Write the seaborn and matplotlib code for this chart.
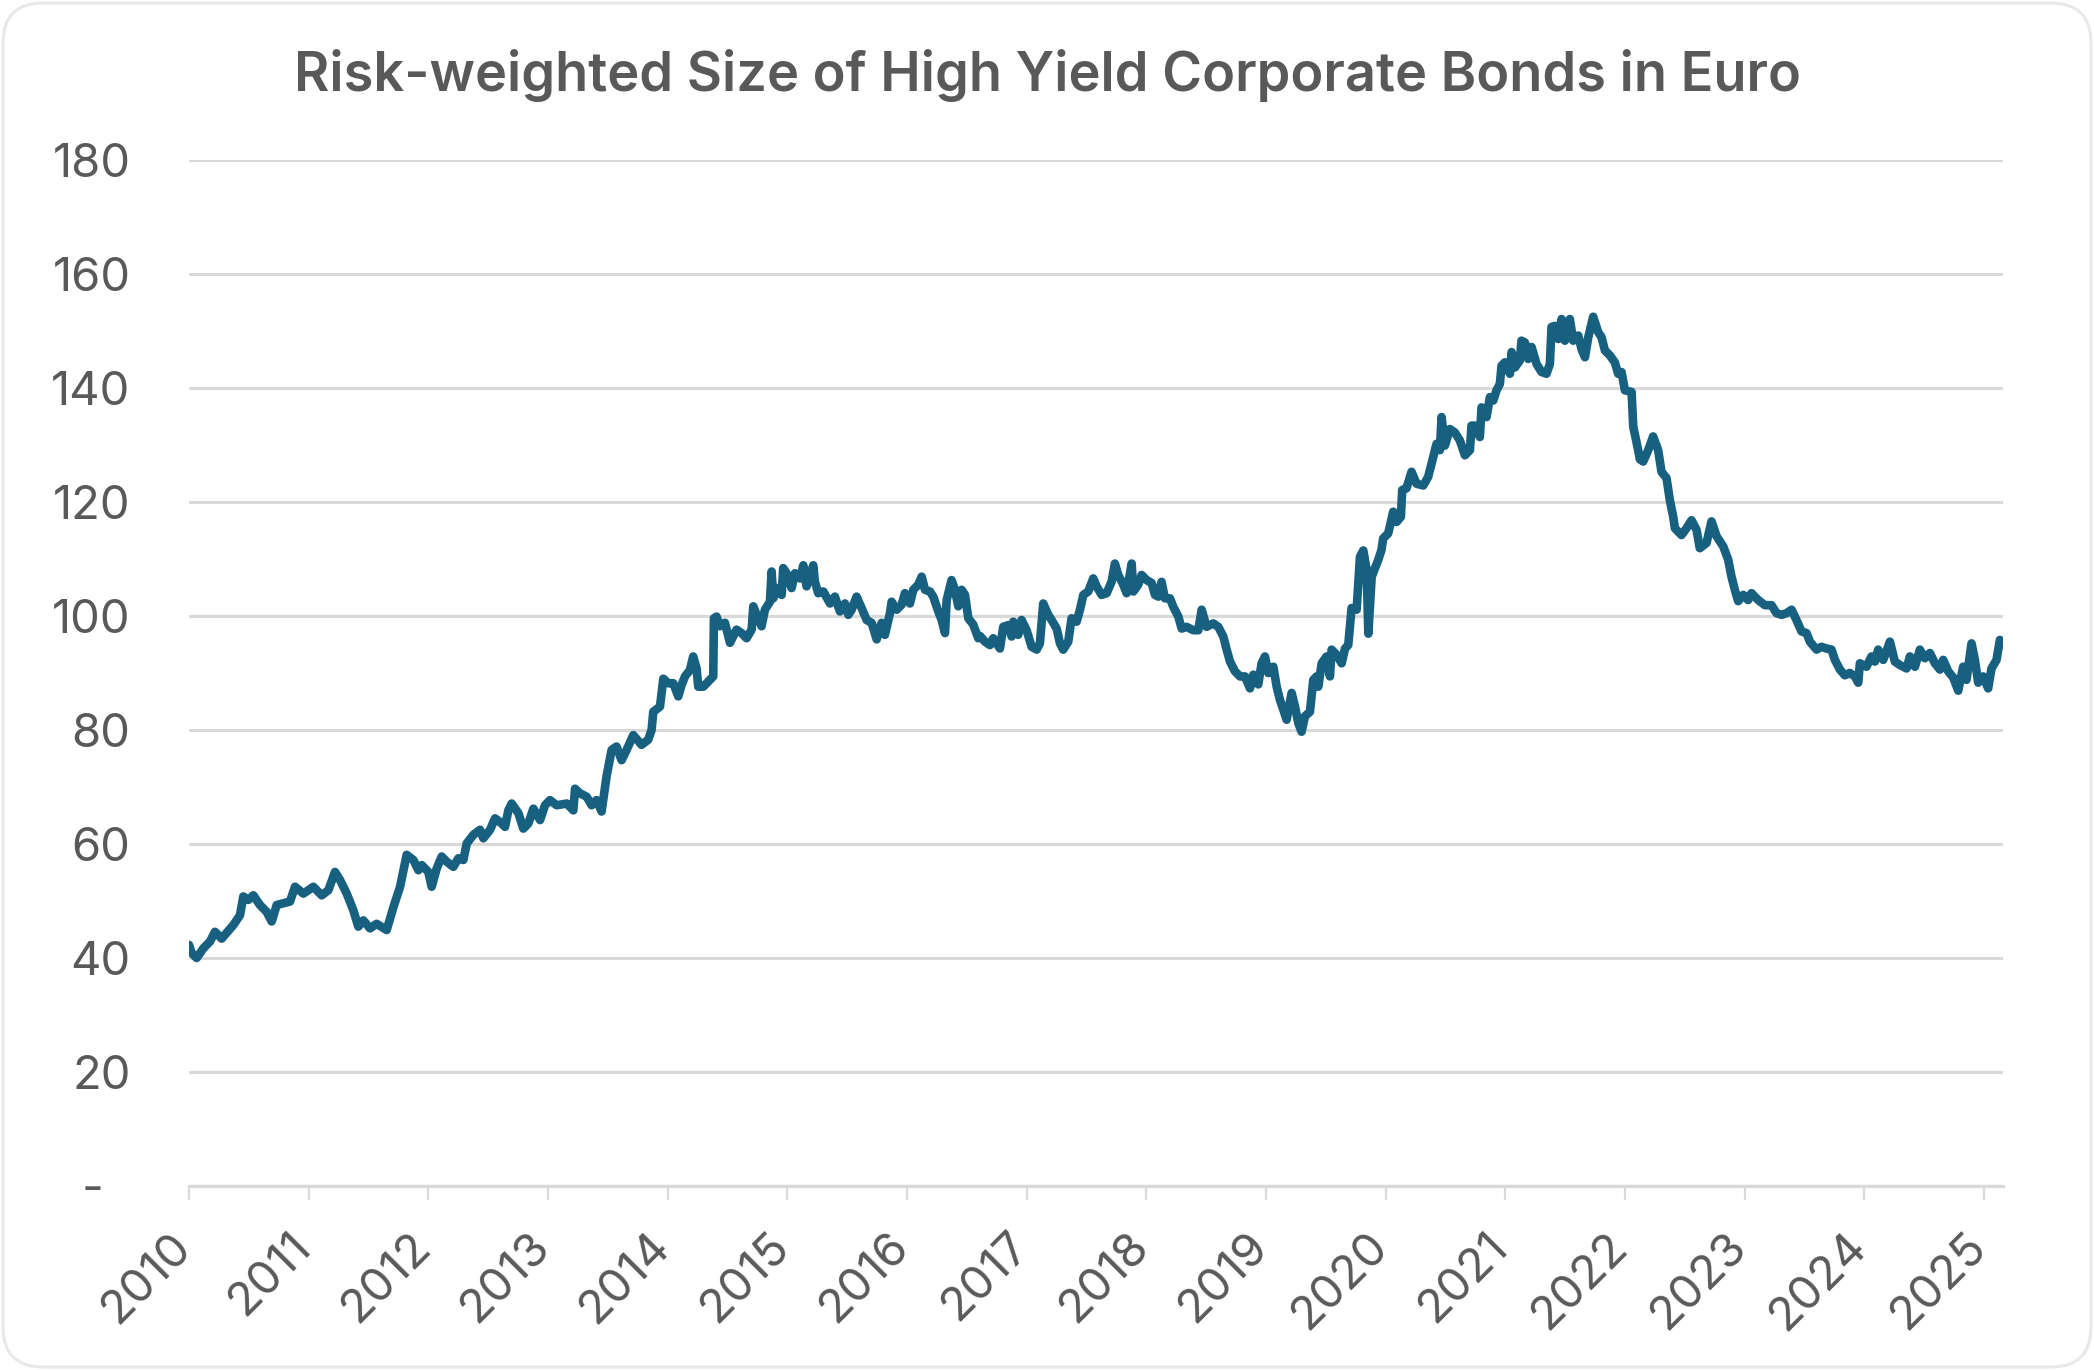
import matplotlib
matplotlib.use("Agg")
import matplotlib.pyplot as plt
import matplotlib.patches as mpatches
import matplotlib.transforms as mtransforms
import seaborn as sns
import pandas as pd

# ---- data (decimal year, value) ----
decimal_years = [
    2010.000, 2010.022, 2010.064, 2010.120, 2010.176, 2010.217, 2010.273, 2010.371, 2010.426, 2010.454,
    2010.496, 2010.538, 2010.593, 2010.649, 2010.691, 2010.733, 2010.788, 2010.844, 2010.886, 2010.956,
    2011.039, 2011.109, 2011.165, 2011.220, 2011.262, 2011.318, 2011.373, 2011.415, 2011.457, 2011.513,
    2011.568, 2011.652, 2011.708, 2011.764, 2011.819, 2011.875, 2011.917, 2011.945, 2012.000, 2012.028,
    2012.070, 2012.112, 2012.154, 2012.209, 2012.251, 2012.293, 2012.321, 2012.376, 2012.432, 2012.460,
    2012.516, 2012.558, 2012.613, 2012.641, 2012.669, 2012.697, 2012.753, 2012.794, 2012.836, 2012.878,
    2012.934, 2012.975, 2013.017, 2013.073, 2013.157, 2013.212, 2013.226,
    2013.267, 2013.323, 2013.365, 2013.406, 2013.448, 2013.490, 2013.532, 2013.573, 2013.615, 2013.657,
    2013.713, 2013.782, 2013.838, 2013.866, 2013.880, 2013.936, 2013.964, 2014.005, 2014.047, 2014.089,
    2014.117, 2014.145, 2014.186, 2014.214, 2014.242, 2014.256, 2014.298, 2014.340, 2014.381, 2014.387,
    2014.409, 2014.437, 2014.479, 2014.521, 2014.576, 2014.618, 2014.660, 2014.702, 2014.716, 2014.744,
    2014.785, 2014.813, 2014.855, 2014.869, 2014.883, 2014.911, 2014.953, 2014.966, 2014.994, 2015.036,
    2015.064, 2015.106, 2015.134, 2015.161, 2015.217, 2015.231, 2015.259, 2015.301, 2015.357, 2015.398,
    2015.440, 2015.482, 2015.510, 2015.538, 2015.579, 2015.621, 2015.663, 2015.705, 2015.747, 2015.788,
    2015.816, 2015.858, 2015.872, 2015.914, 2015.956, 2015.983, 2016.025, 2016.053, 2016.095, 2016.123,
    2016.151, 2016.192, 2016.220, 2016.262, 2016.290, 2016.318, 2016.332, 2016.373, 2016.401, 2016.429,
    2016.457, 2016.485, 2016.513, 2016.554, 2016.596,
    2016.610, 2016.652, 2016.694, 2016.721, 2016.777, 2016.805, 2016.847, 2016.875, 2016.889, 2016.930,
    2016.958, 2017.000, 2017.042, 2017.084, 2017.111, 2017.139, 2017.181, 2017.209, 2017.251, 2017.279,
    2017.306, 2017.348, 2017.376, 2017.418, 2017.446, 2017.474, 2017.515, 2017.557, 2017.585, 2017.627,
    2017.669, 2017.710, 2017.738, 2017.766, 2017.808, 2017.836, 2017.878, 2017.892, 2017.933, 2017.961,
    2018.003, 2018.045, 2018.073, 2018.101, 2018.128, 2018.156, 2018.198, 2018.226, 2018.268, 2018.296,
    2018.337, 2018.393, 2018.435, 2018.463, 2018.504, 2018.560, 2018.602, 2018.644, 2018.672, 2018.700,
    2018.741, 2018.783, 2018.825, 2018.867, 2018.895, 2018.936, 2018.964, 2018.992, 2019.020, 2019.062,
    2019.090, 2019.117, 2019.145, 2019.173, 2019.215, 2019.243, 2019.271, 2019.298, 2019.326, 2019.368,
    2019.396, 2019.424, 2019.438, 2019.466, 2019.507, 2019.535, 2019.549, 2019.591, 2019.633, 2019.661,
    2019.688, 2019.716, 2019.758, 2019.786, 2019.814, 2019.842, 2019.856, 2019.884,
    2019.938, 2019.966, 2019.980, 2020.022, 2020.064, 2020.092, 2020.128, 2020.139, 2020.175, 2020.217,
    2020.259, 2020.315, 2020.356, 2020.384, 2020.426, 2020.454, 2020.468, 2020.496, 2020.537, 2020.579,
    2020.621, 2020.663, 2020.705, 2020.718, 2020.746, 2020.788, 2020.802, 2020.844, 2020.872, 2020.900,
    2020.927, 2020.955, 2020.969, 2020.997, 2021.039, 2021.053, 2021.081, 2021.122, 2021.136, 2021.164,
    2021.192, 2021.220, 2021.262, 2021.304, 2021.345, 2021.373, 2021.387, 2021.415, 2021.443, 2021.471,
    2021.499, 2021.540, 2021.568, 2021.610, 2021.638, 2021.666, 2021.694, 2021.735, 2021.777, 2021.805,
    2021.833, 2021.875, 2021.916, 2021.944, 2021.972, 2022.000, 2022.056, 2022.070, 2022.111,
    2022.125, 2022.153, 2022.195, 2022.236, 2022.278, 2022.306, 2022.348, 2022.376, 2022.404, 2022.418,
    2022.473, 2022.515, 2022.557, 2022.599, 2022.626, 2022.682, 2022.724, 2022.766, 2022.822, 2022.863,
    2022.891, 2022.919, 2022.947, 2022.989, 2023.030, 2023.058, 2023.114, 2023.170, 2023.225, 2023.267,
    2023.309, 2023.351, 2023.393, 2023.434, 2023.476, 2023.518, 2023.546, 2023.602, 2023.643, 2023.685,
    2023.727, 2023.755, 2023.797, 2023.838, 2023.880, 2023.922, 2023.950, 2023.964, 2024.019, 2024.061,
    2024.089, 2024.117, 2024.159, 2024.215, 2024.256, 2024.298, 2024.354, 2024.382, 2024.424, 2024.465,
    2024.507, 2024.549, 2024.591, 2024.633, 2024.660, 2024.702, 2024.744, 2024.786, 2024.827, 2024.855,
    2024.897, 2024.925, 2024.953, 2024.994, 2025.036, 2025.064, 2025.106, 2025.134, 2025.162,
]

hy_size = [
    42.3, 40.9, 40.0, 41.7, 42.9, 44.6, 43.4, 45.8, 47.5, 50.8,
    50.2, 51.0, 49.3, 48.1, 46.4, 49.3, 49.6, 49.9, 52.5, 51.3,
    52.5, 51.0, 51.9, 55.1, 53.7, 51.3, 48.4, 45.5, 46.6, 45.2,
    46.0, 44.9, 48.9, 52.5, 58.1, 57.2, 55.4, 56.3, 55.1, 52.5,
    55.7, 57.8, 56.9, 56.0, 57.5, 57.2, 60.1, 61.6, 62.5, 61.0,
    62.5, 64.5, 63.6, 63.0, 65.9, 67.1, 65.4, 62.7, 63.6, 66.2,
    64.2, 66.8, 67.7, 66.8, 67.1, 65.9, 69.7,
    68.9, 68.3, 66.8, 67.7, 65.7, 71.9, 76.5, 77.1, 74.7, 76.5,
    79.1, 77.4, 78.3, 80.0, 83.2, 84.1, 89.0, 88.2, 88.2, 85.9,
    87.9, 89.4, 90.5, 92.9, 90.8, 87.6, 87.6, 88.5, 89.4, 99.6,
    99.9, 98.2, 98.8, 95.3, 97.6, 97.0, 96.1, 97.6, 101.7, 100.2,
    98.2, 101.1, 102.5, 107.8, 103.1, 104.9, 103.7, 108.4, 107.5, 104.9,
    107.5, 106.6, 108.9, 105.2, 108.9, 106.0, 104.0, 104.3, 102.2, 103.4,
    100.8, 102.2, 100.2, 101.1, 103.4, 101.4, 99.3, 98.8, 95.9, 98.8,
    96.7, 100.5, 102.5, 101.1, 102.0, 104.0, 102.2, 104.6, 105.5, 106.9,
    104.6, 104.3, 103.4, 100.8, 99.3, 97.0, 102.8, 106.3, 104.6, 101.7,
    104.6, 103.7, 99.6, 98.5, 96.1,
    96.5, 95.5, 94.9, 96.1, 94.3, 98.1, 98.4, 96.4, 99.0, 96.7,
    99.3, 97.5, 94.6, 94.1, 95.2, 102.2, 100.2, 99.3, 97.8, 95.2,
    94.1, 95.5, 99.6, 99.0, 101.1, 103.7, 104.3, 106.6, 105.2, 103.7,
    104.0, 106.0, 109.2, 107.2, 105.5, 104.0, 109.2, 104.3, 105.5, 107.2,
    106.3, 105.8, 103.7, 103.4, 106.0, 103.1, 103.1, 101.6, 99.9, 97.8,
    98.1, 97.5, 97.5, 101.1, 98.1, 98.7, 98.1, 96.4, 94.1, 92.0,
    90.3, 89.4, 89.4, 87.3, 89.7, 88.0, 91.7, 92.9, 90.0, 91.1,
    87.6, 85.3, 83.6, 81.8, 86.5, 84.1, 81.2, 79.7, 82.4, 83.2,
    88.8, 89.4, 87.6, 91.7, 92.9, 89.4, 94.1, 93.2, 91.7, 94.3,
    94.9, 101.4, 101.1, 110.4, 111.5, 108.1, 96.9, 106.9,
    109.8, 111.6, 113.6, 114.5, 118.3, 116.5, 117.4, 122.1, 122.4, 125.3,
    123.2, 122.9, 124.4, 126.7, 130.2, 129.1, 134.9, 129.9, 132.8, 132.2,
    130.8, 128.2, 129.1, 133.4, 133.4, 131.4, 136.6, 134.9, 138.4, 137.8,
    139.6, 140.7, 143.9, 144.5, 142.5, 146.3, 143.6, 144.8, 148.3, 148.0,
    145.1, 147.2, 144.2, 142.8, 142.5, 144.2, 150.7, 150.9, 148.6, 152.1,
    148.3, 152.1, 148.3, 149.2, 146.8, 145.4, 148.9, 152.5, 149.8, 148.9,
    146.6, 145.7, 144.5, 142.5, 142.8, 139.6, 139.3, 133.2, 129.1,
    127.5, 127.1, 129.1, 131.5, 129.1, 125.3, 124.2, 120.3, 117.4, 115.4,
    114.2, 115.4, 116.8, 115.1, 111.9, 112.8, 116.6, 114.0, 112.2, 109.9,
    106.9, 104.6, 102.6, 103.7, 102.8, 104.0, 102.8, 101.9, 101.9, 100.5,
    100.2, 100.5, 101.1, 99.3, 97.3, 97.0, 95.5, 94.1, 94.6, 94.3,
    94.1, 92.3, 90.6, 89.6, 90.0, 89.4, 88.3, 91.7, 91.1, 92.9,
    92.0, 94.1, 92.3, 95.5, 92.0, 91.4, 90.8, 92.9, 91.1, 94.1,
    92.6, 93.5, 91.7, 90.6, 92.3, 90.3, 89.2, 86.9, 91.1, 88.8,
    95.2, 92.3, 88.3, 89.4, 87.3, 90.8, 92.3, 95.8, 95.2,
]

year_ticks = list(range(2010, 2026))
year_labels = [str(y) for y in year_ticks]
y_ticks = [0, 20, 40, 60, 80, 100, 120, 140, 160, 180]
y_labels = ["-  ", "20", "40", "60", "80", "100", "120", "140", "160", "180"]
title = "Risk-weighted Size of High Yield Corporate Bonds in Euro"

df = pd.DataFrame({"year": decimal_years, "value": hy_size})

# ---- style ----
sns.set_theme(style="white")
plt.rcParams["font.family"] = ["Inter", "DejaVu Sans"]

TEXT = "#595959"
GRID = "#d9d9d9"
LINE = "#17607f"

W, H, DPI = 2094, 1370, 100
fig = plt.figure(figsize=(W / DPI, H / DPI), dpi=DPI)
fig.patch.set_facecolor("white")

left, right, top, bottom = 189, 2003, 160, 1186
ax = fig.add_axes([left / W, 1 - bottom / H, (right - left) / W, (bottom - top) / H])

sns.lineplot(data=df, x="year", y="value", ax=ax, color=LINE, linewidth=6.2,
             solid_joinstyle="round", solid_capstyle="round", estimator=None, sort=False)

ax.set_xlim(2010, 2025.16)
ax.set_ylim(0, 180)
ax.set_xlabel("")
ax.set_ylabel("")

ax.set_yticks(y_ticks)
ax.set_yticklabels(y_labels)
ax.set_xticks(year_ticks)
ax.set_xticklabels(year_labels)

ax.grid(axis="y", color=GRID, linewidth=2.2)
ax.grid(axis="x", visible=False)
ax.set_axisbelow(True)

for s in ["top", "right", "left"]:
    ax.spines[s].set_visible(False)
ax.spines["bottom"].set_color(GRID)
ax.spines["bottom"].set_linewidth(2.4)

ax.tick_params(axis="y", length=0, pad=42, labelsize=34, labelcolor=TEXT)
ax.tick_params(axis="x", length=10, width=1.6, color=GRID, pad=29, labelsize=34,
               labelcolor=TEXT, direction="out", bottom=True)

offset = mtransforms.ScaledTranslation(-4 / DPI, 0, fig.dpi_scale_trans)
for lab in ax.get_xticklabels():
    lab.set_rotation(45)
    lab.set_ha("right")
    lab.set_va("center")
    lab.set_rotation_mode("anchor")
    lab.set_transform(lab.get_transform() + offset)

fig.text(0.5, 1 - 91 / H, title, ha="center", va="baseline", fontsize=39,
         fontweight="semibold", color=TEXT)

border = mpatches.FancyBboxPatch((3, 3), W - 6, H - 6,
                                 boxstyle="round,pad=0,rounding_size=40",
                                 transform=mtransforms.IdentityTransform(),
                                 facecolor="none", edgecolor="#e8e8e8", linewidth=2.2)
fig.patches.append(border)

fig.savefig("out.png", dpi=DPI, facecolor="white")
